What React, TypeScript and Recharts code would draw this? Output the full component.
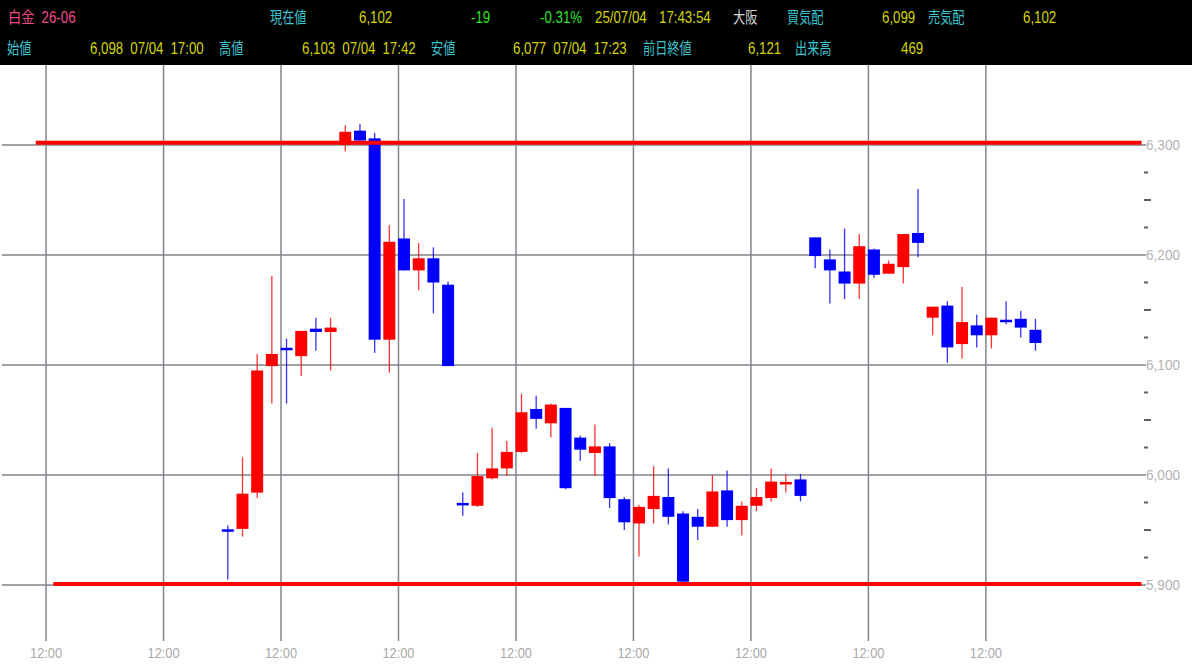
import { ComposedChart, Bar, XAxis, YAxis, CartesianGrid, ReferenceLine } from 'recharts'

// 白金 26-06 candles, left to right
const opens = [
  5950, 5951, 5984, 6099, 6115, 6108, 6133, 6130, 6300, 6313, 6306, 6123, 6215, 6186, 6197, 6173,
  5974, 5972, 5997, 6006, 6021, 6060, 6047, 6061, 6034, 6020, 6026, 5978, 5956, 5969, 5980, 5965,
  5962, 5953, 5986, 5959, 5972, 5979, 5992, 5996, 6216, 6196, 6185, 6174, 6205, 6183, 6189, 6220,
  6143, 6154, 6119, 6136, 6127, 6141, 6142, 6132,
]
const highs = [
  5954, 6016, 6110, 6181, 6124, 6131, 6143, 6143, 6318, 6319, 6311, 6227, 6251, 6211, 6207, 6176,
  5984, 6020, 6043, 6031, 6074, 6072, 6065, 6061, 6036, 6046, 6029, 5980, 5973, 6008, 6006, 5967,
  5969, 6000, 6004, 5976, 5988, 6006, 6001, 6001, 6216, 6205, 6224, 6219, 6206, 6195, 6219, 6260,
  6153, 6158, 6171, 6146, 6143, 6158, 6149, 6142,
]
const lows = [
  5905, 5944, 5979, 6065, 6065, 6090, 6113, 6095, 6294, 6300, 6111, 6093, 6186, 6168, 6147, 6099,
  5963, 5971, 5996, 5999, 6020, 6042, 6034, 5987, 6013, 5999, 5970, 5950, 5926, 5956, 5955, 5902,
  5941, 5953, 5953, 5945, 5967, 5976, 5984, 5976, 6188, 6156, 6160, 6160, 6179, 6183, 6174, 6198,
  6127, 6102, 6106, 6116, 6115, 6137, 6125, 6113,
]
const closes = [
  5949, 5983, 6095, 6110, 6114, 6131, 6130, 6134, 6312, 6304, 6123, 6212, 6186, 6197, 6175, 6099,
  5973, 5999, 6006, 6021, 6057, 6051, 6064, 5988, 6023, 6026, 5979, 5957, 5971, 5981, 5962, 5903,
  5953, 5985, 5959, 5972, 5980, 5994, 5993, 5981, 6199, 6186, 6174, 6208, 6182, 6192, 6219, 6211,
  6153, 6116, 6139, 6127, 6143, 6139, 6134, 6120,
]

// time axis (positions in candle index units)
const sessionTicks = [-12.4, -4.4, 3.6, 11.6, 19.6, 27.6, 35.6, 43.6, 51.6]
const sessionLabels = ['12:00', '12:00', '12:00', '12:00', '12:00', '12:00', '12:00', '12:00', '12:00']

const priceTicks = [
  5900, 5925, 5950, 5975, 6000, 6025, 6050, 6075, 6100, 6125, 6150, 6175, 6200, 6225, 6250, 6275, 6300,
]
const gridPrices = [5900, 6000, 6100, 6200, 6300]

// horizontal lines drawn on the chart
const levelPrices = [6302, 5901]
const levelStarts = [-13.1, -11.9]

// quote board
const row1Texts = ['白金 26-06', '現在値', '6,102', '-19', '-0.31%', '25/07/04', '17:43:54', '大阪', '買気配', '6,099', '売気配', '6,102']
const row1Tones = ['title', 'label', 'value', 'change', 'change', 'value', 'value', 'place', 'label', 'value', 'label', 'value']
const row2Texts = ['始値', '6,098 07/04 17:00', '高値', '6,103 07/04 17:42', '安値', '6,077 07/04 17:23', '前日終値', '6,121', '出来高', '469']
const row2Tones = ['label', 'value', 'label', 'value', 'label', 'value', 'label', 'value', 'label', 'value']

const row1Lefts = [8, 270, 359, 471, 540, 595, 659, 733, 787, 882, 928, 1023]
const row2Lefts = [7, 90, 219, 302, 431, 513, 643, 748, 795, 901]

const toneColor: Record<string, string> = {
  title: '#f04c8c',
  label: '#3cc4d2',
  value: '#d4d400',
  change: '#2ee02e',
  place: '#d8d8d8',
}

const candles = opens.map((open, i) => ({
  idx: i,
  open,
  high: highs[i],
  low: lows[i],
  close: closes[i],
}))

const FONT = '"Liberation Sans", "Noto Sans CJK JP", sans-serif'
const GRID = '#80848c'

function Candle(props: any) {
  const { x, y, width, height, payload } = props
  if (x == null || y == null || !payload) return null
  const { open, close, high, low } = payload
  const color = close >= open ? '#ff0000' : '#0000ff'
  const h = Math.abs(height)
  const top = height >= 0 ? y : y + height
  const k = high > low ? h / (high - low) : 0
  const py = (v: number) => top + (high - v) * k
  let bTop = py(Math.max(open, close))
  let bBot = py(Math.min(open, close))
  if (bBot - bTop < 2.5) {
    const m = (bTop + bBot) / 2
    bTop = m - 1.25
    bBot = m + 1.25
  }
  const cx = x + width / 2
  return (
    <g>
      <line x1={cx} x2={cx} y1={top} y2={top + h} stroke={color} strokeOpacity={0.8} strokeWidth={1.3} />
      <rect x={x} y={bTop} width={width} height={bBot - bTop} fill={color} />
    </g>
  )
}

function PriceTick(props: any) {
  const { x, y, payload } = props
  const v = payload.value as number
  if (v % 100 === 0) {
    return (
      <g>
        <line x1={x} x2={x + 3} y1={y} y2={y} stroke={GRID} strokeWidth={1.5} />
        <text
          x={x + 3}
          y={y}
          dy="0.36em"
          fill="#b2b2b2"
          fontSize={15}
          fontFamily={FONT}
          textLength={34}
          lengthAdjust="spacingAndGlyphs"
        >
          {v.toLocaleString('en-US')}
        </text>
      </g>
    )
  }
  const len = v % 50 === 0 ? 7 : 4
  return <line x1={x + 1} x2={x + 1 + len} y1={y} y2={y} stroke="#5c6068" strokeWidth={2} />
}

function TimeTick(props: any) {
  const { x, y, index } = props
  return (
    <text
      x={x}
      y={y + 12}
      dy="0.36em"
      textAnchor="middle"
      fill="#a8a8a8"
      fontSize={15}
      fontFamily={FONT}
      textLength={32}
      lengthAdjust="spacingAndGlyphs"
    >
      {sessionLabels[index] ?? ''}
    </text>
  )
}

function HeaderRow({ texts, tones, lefts, center }: { texts: string[]; tones: string[]; lefts: number[]; center: number }) {
  return (
    <>
      {texts.map((t, i) => {
        const cjkLabel = tones[i] === 'label' || tones[i] === 'place'
        return (
          <div
            key={i}
            style={{
              position: 'absolute',
              left: lefts[i],
              top: center - 9,
              height: 18,
              lineHeight: '18px',
              whiteSpace: 'pre',
              fontFamily: FONT,
              fontSize: 16,
              wordSpacing: 4,
              color: toneColor[tones[i]],
              transform: `scaleX(${cjkLabel ? 0.76 : 0.83})`,
              transformOrigin: 'left center',
            }}
          >
            {t}
          </div>
        )
      })}
    </>
  )
}

export default function App() {
  return (
    <div style={{ position: 'absolute', left: 0, top: 0, width: 1192, height: 672, background: '#fff', overflow: 'hidden' }}>
      <div style={{ position: 'absolute', left: 0, top: 0, width: 1192, height: 65, background: '#000' }}>
        <HeaderRow texts={row1Texts} tones={row1Tones} lefts={row1Lefts} center={18} />
        <HeaderRow texts={row2Texts} tones={row2Tones} lefts={row2Lefts} center={48.5} />
      </div>
      <div style={{ position: 'absolute', left: 0, top: 65 }}>
        <ComposedChart width={1192} height={607} data={candles} margin={{ top: 0, right: 0, left: 2, bottom: 0 }}>
          <CartesianGrid
            stroke={GRID}
            strokeWidth={1.5}
            horizontalValues={gridPrices}
            verticalValues={sessionTicks}
          />
          <XAxis
            dataKey="idx"
            type="number"
            domain={[-15.4, 62.3]}
            allowDataOverflow
            ticks={sessionTicks}
            interval={0}
            axisLine={false}
            tickLine={false}
            tickSize={0}
            tickMargin={0}
            height={31}
            tick={<TimeTick />}
          />
          <YAxis
            orientation="right"
            type="number"
            domain={[5849.1, 6372.7]}
            allowDataOverflow
            ticks={priceTicks}
            interval={0}
            axisLine={false}
            tickLine={false}
            tickSize={0}
            tickMargin={0}
            width={49}
            tick={<PriceTick />}
          />
          {levelPrices.map((p, i) => (
            <ReferenceLine
              key={i}
              segment={[
                { x: levelStarts[i], y: p },
                { x: 62.2, y: p },
              ]}
              stroke="#ff0000"
              strokeWidth={4}
            />
          ))}
          <Bar
            dataKey={(d: any) => [d.low, d.high]}
            barSize={12}
            shape={<Candle />}
            isAnimationActive={false}
          />
        </ComposedChart>
      </div>
    </div>
  )
}
